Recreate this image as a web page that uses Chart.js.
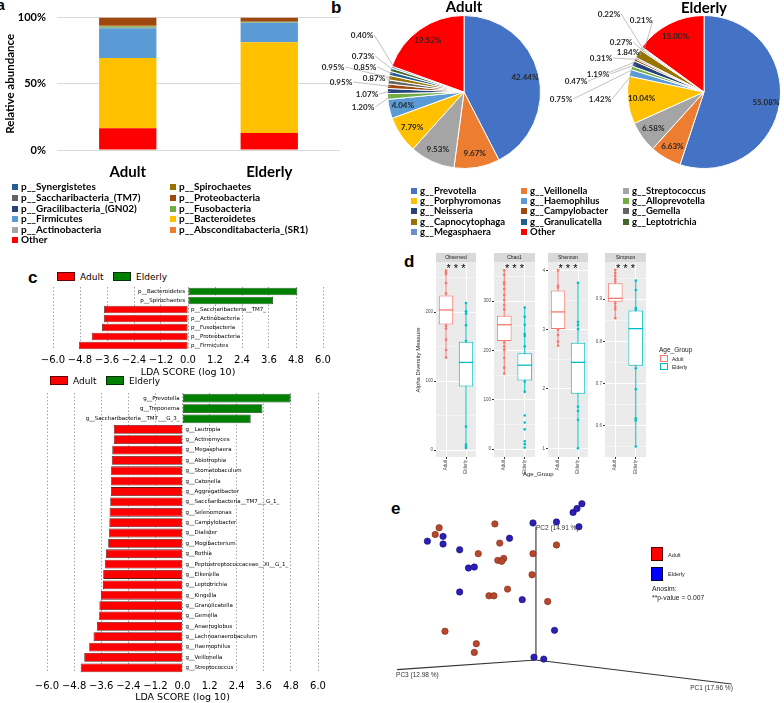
<!DOCTYPE html>
<html>
<head>
<meta charset="utf-8">
<title>Adult vs Elderly oral microbiota</title>
<script src="https://cdn.jsdelivr.net/npm/chart.js@4.4.1/dist/chart.umd.min.js"></script>
<style>
  html, body { margin: 0; padding: 0; }
  body { width: 784px; height: 703px; position: relative; overflow: hidden; background: #fff; color: #000; }
  canvas { position: absolute; }
  .txt { position: absolute; white-space: nowrap; }
  .tag { position: absolute; font: bold 17px "Liberation Sans", Arial, sans-serif; line-height: 1; }
  .lgA { font: bold 10px Lato, sans-serif; line-height: 10.6px; }
  .lgB { font: bold 9.5px Lato, sans-serif; line-height: 10.2px; }
  .key { display: inline-block; width: 6px; height: 6px; margin-right: 3px; }
  .sm { font: 9px "DejaVu Sans", sans-serif; line-height: 1; }
  .gg { font: 6.5px "Liberation Sans", Arial, sans-serif; line-height: 1; color: #1a1a1a; }
</style>
</head>
<body>
<div class="tag" style="left:-3px;top:-2px;font-size:14px">a</div>
<div class="tag" style="left:331px;top:-1px">b</div>
<div class="tag" style="left:28px;top:269px">c</div>
<div class="tag" style="left:404px;top:253px">d</div>
<div class="tag" style="left:391px;top:500px">e</div>

<canvas id="barA" width="345" height="185" style="left:0;top:0"></canvas>

<canvas id="pieAdult" width="320" height="184" style="left:304px;top:0"></canvas>
<canvas id="pieElderly" width="320" height="184" style="left:544px;top:0"></canvas>
<div class="txt" style="left:414px;top:-1px;width:100px;text-align:center;font:bold 15px Lato,sans-serif;line-height:1">Adult</div>
<div class="txt" style="left:654px;top:0px;width:100px;text-align:center;font:bold 15px Lato,sans-serif;line-height:1">Elderly</div>

<div class="txt sm" style="left:57px;top:272px"><span style="display:inline-block;width:16px;height:7px;background:#ff0000;border:0.5px solid #600;vertical-align:-1px;margin-right:5px"></span>Adult</div>
<div class="txt sm" style="left:113px;top:272px"><span style="display:inline-block;width:16px;height:7px;background:#008000;border:0.5px solid #030;vertical-align:-1px;margin-right:5px"></span>Elderly</div>
<canvas id="ldaPhylum" width="310" height="97" style="left:33px;top:282px"></canvas>
<div class="txt sm" style="left:50px;top:376px"><span style="display:inline-block;width:16px;height:7px;background:#ff0000;border:0.5px solid #600;vertical-align:-1px;margin-right:5px"></span>Adult</div>
<div class="txt sm" style="left:106px;top:376px"><span style="display:inline-block;width:16px;height:7px;background:#008000;border:0.5px solid #030;vertical-align:-1px;margin-right:5px"></span>Elderly</div>
<canvas id="ldaGenus" width="311" height="315" style="left:27px;top:388px"></canvas>

<canvas id="fObserved" width="68" height="226" style="left:412px;top:252px"></canvas>
<canvas id="fChao1" width="59" height="226" style="left:480px;top:252px"></canvas>
<canvas id="fShannon" width="58" height="226" style="left:534px;top:252px"></canvas>
<canvas id="fSimpson" width="59" height="226" style="left:591px;top:252px"></canvas>
<div class="txt gg" style="left:523px;top:471px;font-size:6px">Age_Group</div>
<div class="txt gg" style="left:659px;top:347px">Age_Group</div>
<div class="txt gg" style="left:660px;top:355px;font-size:5px"><span style="display:inline-block;width:6px;height:5px;border:1px solid #f8766d;background:#fff;margin-right:4px;vertical-align:-1px"></span>Adult</div>
<div class="txt gg" style="left:660px;top:363px;font-size:5px"><span style="display:inline-block;width:6px;height:5px;border:1px solid #00bfc4;background:#fff;margin-right:4px;vertical-align:-1px"></span>Elderly</div>

<canvas id="pcoa" width="414" height="223" style="left:370px;top:480px"></canvas>
<div class="txt" style="left:651px;top:547px;width:10px;height:12px;background:#ff0000;border:1px solid #500"></div>
<div class="txt gg" style="left:668px;top:553px;font-size:5.5px">Adult</div>
<div class="txt" style="left:651px;top:567px;width:10px;height:12px;background:#0000ff;border:1px solid #003"></div>
<div class="txt gg" style="left:668px;top:572px;font-size:5.5px">Elderly</div>
<div class="txt gg" style="left:652px;top:586px;font-size:6.8px">Anosim:</div>
<div class="txt gg" style="left:652px;top:595px;font-size:6.8px">**p-value = 0.007</div>

<script>
// a: phylum relative abundance (%)
var groups = ['Adult', 'Elderly'];
var phyla = ['Other', 'p__Bacteroidetes', 'p__Firmicutes', 'p__Actinobacteria', 'p__Fusobacteria', 'p__Saccharibacteria_(TM7)', 'p__Spirochaetes', 'p__Synergistetes', 'p__Gracilibacteria_(GN02)', 'p__Absconditabacteria_(SR1)', 'p__Proteobacteria'];
var phylumAdult = [16.5, 52.9, 22.6, 0.4, 0.8, 0.2, 0.2, 0.1, 0.05, 0.05, 6.2];
var phylumElderly = [12.9, 68.5, 14.6, 0.2, 0.3, 0.1, 0.3, 0.05, 0.05, 0.0, 3.0];
var phylumColors = ['#ff0000', '#ffc000', '#5b9bd5', '#a5a5a5', '#70ad47', '#636363', '#997300', '#255e91', '#264478', '#ed7d31', '#9e480e'];
var phylumLegendLeft = ['p__Synergistetes', 'p__Saccharibacteria_(TM7)', 'p__Gracilibacteria_(GN02)', 'p__Firmicutes', 'p__Actinobacteria', 'Other'];
var phylumLegendRight = ['p__Spirochaetes', 'p__Proteobacteria', 'p__Fusobacteria', 'p__Bacteroidetes', 'p__Absconditabacteria_(SR1)'];
var percentTicks = [0, 50, 100];

// b: genus pies (%)
var genera = ['g__Prevotella', 'g__Veillonella', 'g__Streptococcus', 'g__Porphyromonas', 'g__Haemophilus', 'g__Alloprevotella', 'g__Neisseria', 'g__Campylobacter', 'g__Gemella', 'g__Capnocytophaga', 'g__Granulicatella', 'g__Leptotrichia', 'g__Megasphaera', 'Other'];
var genusAdult = [42.44, 9.67, 9.53, 7.79, 4.04, 1.20, 1.07, 0.95, 0.87, 0.95, 0.85, 0.73, 0.40, 19.52];
var genusElderly = [55.08, 6.63, 6.58, 10.04, 1.42, 0.75, 1.19, 0.47, 0.31, 1.84, 0.27, 0.22, 0.21, 15.00];
var genusColors = ['#4472c4', '#ed7d31', '#a5a5a5', '#ffc000', '#5b9bd5', '#70ad47', '#264478', '#9e480e', '#636363', '#997300', '#255e91', '#43682b', '#698ed0', '#ff0000'];
// where the small slice labels sit, relative to the pie centre
var adultLabelPos = [null, null, null, null, null, [-101, 15], [-97, 2], [-123, -10], [-90, -14], [-131, -25], [-99, -25], [-101, -36], [-102, -57], null];
var elderlyLabelPos = [null, null, null, null, [-104, 7], [-143, 7], [-106, -18], [-128, -11], [-103, -34], [-76, -40], [-83, -50], [-95, -78], [-63, -72], null];

// c: LEfSe LDA scores
var phylumLda = ['p__Bacteroidetes', 'p__Spirochaetes', 'p__Saccharibacteria__TM7_', 'p__Actinobacteria', 'p__Fusobacteria', 'p__Proteobacteria', 'p__Firmicutes'];
var phylumLdaScore = [4.86, 3.78, -3.73, -3.74, -3.82, -4.28, -4.84];
var genusLda = ['g__Prevotella', 'g__Treponema', 'g__Saccharibacteria__TM7___G_3_', 'g__Lautropia', 'g__Actinomyces', 'g__Megasphaera', 'g__Abiotrophia', 'g__Stomatobaculum', 'g__Catonella', 'g__Aggregatibacter', 'g__Saccharibacteria__TM7___G_1_', 'g__Selenomonas', 'g__Campylobacter', 'g__Dialister', 'g__Mogibacterium', 'g__Rothia', 'g__Peptostreptococcaceae__XI__G_1_', 'g__Eikenella', 'g__Leptotrichia', 'g__Kingella', 'g__Granulicatella', 'g__Gemella', 'g__Anaeroglobus', 'g__Lachnoanaerobaculum', 'g__Haemophilus', 'g__Veillonella', 'g__Streptococcus'];
var genusLdaScore = [4.79, 3.54, 3.02, -3.04, -3.04, -3.11, -3.13, -3.16, -3.16, -3.17, -3.20, -3.23, -3.24, -3.25, -3.29, -3.39, -3.44, -3.51, -3.52, -3.61, -3.68, -3.69, -3.79, -3.94, -4.13, -4.35, -4.51];
var ldaTicks = [-6.0, -4.8, -3.6, -2.4, -1.2, 0.0, 1.2, 2.4, 3.6, 4.8, 6.0];

// d: alpha diversity, box = [min, q1, median, q3, max] for Adult, Elderly
var observedBox = [[134, 182, 203, 224, 260], [3, 92, 127, 157, 213]];
var observedPts = [[260, 257, 255, 242, 227, 180, 176, 160, 145, 134], [213, 201, 198, 181, 158, 34, 8, 5, 3]];
var chao1Box = [[153, 219, 252, 270, 362], [116, 139, 170, 194, 287]];
var chao1Pts = [[362, 353, 338, 334, 324, 312, 302, 292, 283, 216, 208, 201, 185, 165, 153], [287, 268, 252, 233, 229, 208, 137, 116, 68, 54, 40, 16, 10, 3]];
var shannonBox = [[2.74, 3.01, 3.30, 3.66, 4.00], [1.00, 1.92, 2.45, 2.78, 3.80]];
var shannonPts = [[4.0, 3.74, 3.71, 3.0, 2.91, 2.80, 2.73], [3.79, 3.13, 3.08, 3.01, 1.70, 1.63, 1.48, 1.0]];
var simpsonBox = [[0.855, 0.894, 0.902, 0.938, 0.970], [0.550, 0.742, 0.830, 0.873, 0.944]];
var simpsonPts = [[0.970, 0.962, 0.955, 0.948, 0.942, 0.890, 0.882, 0.876, 0.855], [0.944, 0.922, 0.879, 0.875, 0.736, 0.686, 0.617, 0.612, 0.550]];
var observedTicks = [0, 50, 100, 150, 200, 250];
var chao1Ticks = [0, 50, 100, 150, 200, 250, 300, 350];
var shannonTicks = [1, 1.5, 2, 2.5, 3, 3.5, 4];
var simpsonTicks = [0.55, 0.6, 0.65, 0.7, 0.75, 0.8, 0.85, 0.9, 0.95];
var groupColors = ['#f8766d', '#00bfc4'];

// e: PCoA, projected positions of the 3D plot
var pcoaAdult = [[-0.99, 1.38], [-1.03, 1.31], [-0.42, 1.42], [-0.37, 1.22], [-0.59, 1.11], [-0.39, 1.04], [-0.33, 1.06], [-0.35, 1.03], [-0.03, 1.11], [0.21, 1.20], [-0.04, 0.89], [-0.29, 0.74], [-0.48, 0.67], [-0.43, 0.67], [0.12, 0.61], [-0.93, 0.30], [-0.61, 0.17], [-0.63, 0.08]];
var pcoaElderly = [[-0.03, 1.43], [0.21, 1.44], [0.38, 1.54], [0.42, 1.58], [0.47, 1.63], [0.44, 1.39], [-0.27, 1.27], [-0.95, 1.29], [-1.11, 1.24], [-0.95, 1.21], [-0.78, 1.15], [-0.69, 0.96], [-0.63, 0.97], [-0.78, 0.71], [-0.14, 0.63], [0.19, 0.31], [-0.02, 0.03], [0.08, 0.01]];
var pcAxisEnds = [[2.00, -0.25], [0, 1.39], [-1.42, -0.10]];
var pcAxisNames = ['PC1 (17.96 %)', 'PC2 (14.91 %)', 'PC3 (12.98 %)'];

Chart.defaults.font.family = '"DejaVu Sans", sans-serif';
Chart.defaults.color = '#000';
Chart.defaults.animation = false;
Chart.defaults.responsive = false;
Chart.defaults.devicePixelRatio = 1;
Chart.defaults.plugins.legend.display = false;
Chart.defaults.plugins.tooltip.enabled = false;

function setTicks(values) {
    return function (axis) {
        axis.ticks = values.map(function (v) { return { value: v }; });
    };
}

function addLegendRow(name, color, x, y, cls) {
    var d = document.createElement('div');
    d.className = 'txt ' + cls;
    d.style.left = x + 'px';
    d.style.top = y + 'px';
    var k = document.createElement('span');
    k.className = 'key';
    k.style.background = color;
    d.appendChild(k);
    d.appendChild(document.createTextNode(name));
    document.body.appendChild(d);
}

// ---- a ----
new Chart(document.getElementById('barA'), {
    type: 'bar',
    data: {
        labels: groups,
        datasets: phyla.map(function (name, i) {
            return {
                label: name,
                data: [phylumAdult[i], phylumElderly[i]],
                backgroundColor: phylumColors[i],
                categoryPercentage: 0.45,
                barPercentage: 0.9
            };
        })
    },
    options: {
        layout: { padding: { top: 9, right: 5 } },
        scales: {
            x: {
                stacked: true,
                grid: { display: false },
                border: { display: false },
                ticks: { padding: 5, color: '#000', font: { family: 'Lato', size: 15, weight: 'bold' } },
                afterFit: function (s) { s.height = 35; }
            },
            y: {
                stacked: true, min: 0, max: 100,
                afterBuildTicks: setTicks(percentTicks),
                grid: { color: '#d9d9d9', drawTicks: false },
                border: { display: false },
                ticks: { padding: 11, color: '#000', font: { family: 'Lato', size: 11, weight: 'bold' }, callback: function (v) { return v + '%'; } },
                title: { display: true, text: 'Relative abundance', color: '#000', font: { family: 'Lato', size: 11.5, weight: 'bold' }, padding: { top: 3 } },
                afterFit: function (s) { s.width = 57; }
            }
        }
    }
});
phylumLegendLeft.forEach(function (name, i) {
    addLegendRow(name, phylumColors[phyla.indexOf(name)], 12, 181.4 + i * 10.6, 'lgA');
});
phylumLegendRight.forEach(function (name, i) {
    addLegendRow(name, phylumColors[phyla.indexOf(name)], 170, 181.4 + i * 10.6, 'lgA');
});

// ---- b ----
var pieLabels = {
    id: 'pieLabels',
    afterDatasetsDraw: function (chart, args, opts) {
        var ctx = chart.ctx;
        var values = chart.data.datasets[0].data;
        ctx.save();
        ctx.font = 'bold 8px Lato, sans-serif';
        ctx.textBaseline = 'middle';
        ctx.textAlign = 'center';
        chart.getDatasetMeta(0).data.forEach(function (arc, i) {
            var mid = (arc.startAngle + arc.endAngle) / 2;
            var text = values[i].toFixed(2) + '%';
            var pos = opts.outside[i];
            ctx.fillStyle = '#262626';
            if (!pos) {
                ctx.fillText(text, arc.x + Math.cos(mid) * arc.outerRadius * 0.82, arc.y + Math.sin(mid) * arc.outerRadius * 0.82);
                return;
            }
            var tx = arc.x + pos[0], ty = arc.y + pos[1];
            var w = ctx.measureText(text).width;
            ctx.strokeStyle = '#a6a6a6';
            ctx.lineWidth = 0.7;
            ctx.beginPath();
            ctx.moveTo(tx + w / 2 + 1, ty);
            ctx.lineTo(arc.x + Math.cos(mid) * arc.outerRadius * 0.96, arc.y + Math.sin(mid) * arc.outerRadius * 0.96);
            ctx.stroke();
            ctx.fillText(text, tx, ty);
        });
        ctx.restore();
    }
};

function pieChart(id, values, outside) {
    return new Chart(document.getElementById(id), {
        type: 'pie',
        data: {
            labels: genera,
            datasets: [{ data: values, backgroundColor: genusColors, borderColor: '#ffffff', borderWidth: 1 }]
        },
        options: {
            layout: { padding: { left: 83, right: 83, top: 15, bottom: 15 } },
            plugins: { pieLabels: { outside: outside } }
        },
        plugins: [pieLabels]
    });
}
pieChart('pieAdult', genusAdult, adultLabelPos);
pieChart('pieElderly', genusElderly, elderlyLabelPos);
genera.forEach(function (name, i) {
    var colX = [411, 521, 623];
    addLegendRow(name, genusColors[i], colX[i % 3], 186 + Math.floor(i / 3) * 10.2, 'lgB');
});

// ---- c ----
var ldaLabels = {
    id: 'ldaLabels',
    afterDatasetsDraw: function (chart) {
        var ctx = chart.ctx;
        var x0 = chart.scales.x.getPixelForValue(0);
        var scores = chart.data.datasets[0].data;
        ctx.save();
        ctx.font = '5.5px "DejaVu Sans"';
        ctx.fillStyle = '#000';
        ctx.textBaseline = 'middle';
        chart.getDatasetMeta(0).data.forEach(function (bar, i) {
            if (scores[i] > 0) {
                ctx.textAlign = 'right';
                ctx.fillText(chart.data.labels[i], x0 - 3, bar.y);
            } else {
                ctx.textAlign = 'left';
                ctx.fillText(chart.data.labels[i], x0 + 3, bar.y);
            }
        });
        ctx.restore();
    }
};

function ldaChart(id, names, scores, axisHeight, tickPad, titlePad) {
    return new Chart(document.getElementById(id), {
        type: 'bar',
        data: {
            labels: names,
            datasets: [{
                data: scores,
                backgroundColor: scores.map(function (v) { return v > 0 ? '#008000' : '#ff0000'; }),
                borderColor: scores.map(function (v) { return v > 0 ? '#1f3d1f' : '#5a2020'; }),
                borderWidth: 0.8,
                borderSkipped: false,
                barPercentage: 0.85,
                categoryPercentage: 1
            }]
        },
        options: {
            indexAxis: 'y',
            layout: { padding: { left: 20, right: 20, top: 5, bottom: 0 } },
            scales: {
                x: {
                    min: -6, max: 6,
                    afterBuildTicks: setTicks(ldaTicks),
                    grid: { color: '#8c8c8c', lineWidth: 0.8, drawTicks: false },
                    border: { display: false, dash: [1.5, 2] },
                    ticks: {
                        padding: tickPad, color: '#000', font: { size: 10 },
                        autoSkip: false, minRotation: 0, maxRotation: 0,
                        callback: function (v) { return (v < 0 ? '\u2212' : '') + Math.abs(v).toFixed(1); }
                    },
                    title: { display: true, text: 'LDA SCORE (log 10)', color: '#000', font: { size: 9.5 }, padding: { top: 0, bottom: titlePad } },
                    afterFit: function (s) { s.height = axisHeight; }
                },
                y: { display: false }
            }
        },
        plugins: [ldaLabels]
    });
}
ldaChart('ldaPhylum', phylumLda, phylumLdaScore, 29, 4, 1);
ldaChart('ldaGenus', genusLda, genusLdaScore, 30, 7, 0);

// ---- d ----
var facetPlugin = {
    id: 'facet',
    beforeDraw: function (chart, args, opts) {
        var a = chart.chartArea, ctx = chart.ctx;
        ctx.save();
        ctx.fillStyle = '#ebebeb';
        ctx.fillRect(a.left, a.top, a.right - a.left, a.bottom - a.top);
        ctx.fillStyle = '#d9d9d9';
        ctx.fillRect(a.left, a.top - 10, a.right - a.left, 9.5);
        ctx.fillStyle = '#1a1a1a';
        ctx.font = '5px "Liberation Sans"';
        ctx.textAlign = 'center';
        ctx.textBaseline = 'middle';
        ctx.fillText(opts.title, (a.left + a.right) / 2, a.top - 5);
        ctx.restore();
    },
    beforeDatasetsDraw: function (chart, args, opts) {
        var ctx = chart.ctx, x = chart.scales.x, y = chart.scales.y;
        ctx.save();
        ctx.lineWidth = 1;
        opts.box.forEach(function (b, i) {
            var px = x.getPixelForValue(i);
            ctx.strokeStyle = groupColors[i];
            ctx.beginPath();
            ctx.moveTo(px, y.getPixelForValue(b[0]));
            ctx.lineTo(px, y.getPixelForValue(b[4]));
            ctx.stroke();
        });
        ctx.restore();
    },
    afterDatasetsDraw: function (chart, args, opts) {
        var ctx = chart.ctx, y = chart.scales.y, a = chart.chartArea;
        var bars = chart.getDatasetMeta(0).data;
        ctx.save();
        ctx.lineWidth = 1.3;
        opts.box.forEach(function (b, i) {
            var py = y.getPixelForValue(b[2]);
            ctx.strokeStyle = groupColors[i];
            ctx.beginPath();
            ctx.moveTo(bars[i].x - bars[i].width / 2, py);
            ctx.lineTo(bars[i].x + bars[i].width / 2, py);
            ctx.stroke();
        });
        ctx.fillStyle = '#000';
        ctx.font = '11px "Liberation Sans"';
        ctx.textAlign = 'center';
        ctx.textBaseline = 'middle';
        ctx.fillText('* * *', (a.left + a.right) / 2, a.top + 6);
        ctx.restore();
    }
};

function facetChart(id, title, box, pts, ticks, major, min, max, yWidth, yTitle) {
    var isMajor = function (v) { return Math.abs(v / major - Math.round(v / major)) < 1e-6; };
    return new Chart(document.getElementById(id), {
        type: 'bar',
        data: {
            labels: groups,
            datasets: [
                {
                    type: 'bar',
                    data: box.map(function (b) { return [b[1], b[3]]; }),
                    backgroundColor: '#ffffff',
                    borderColor: groupColors,
                    borderWidth: 1,
                    borderSkipped: false,
                    barPercentage: 0.72,
                    categoryPercentage: 1
                },
                {
                    type: 'scatter',
                    data: pts[0].map(function (v) { return { x: 'Adult', y: v }; }),
                    pointRadius: 1.3, pointBackgroundColor: groupColors[0], pointBorderWidth: 0
                },
                {
                    type: 'scatter',
                    data: pts[1].map(function (v) { return { x: 'Elderly', y: v }; }),
                    pointRadius: 1.3, pointBackgroundColor: groupColors[1], pointBorderWidth: 0
                }
            ]
        },
        options: {
            layout: { padding: { top: 11, left: 0, right: 0, bottom: 0 } },
            plugins: { facet: { title: title, box: box } },
            scales: {
                x: {
                    grid: { offset: false, color: '#ffffff', lineWidth: 1, tickLength: 2, tickColor: '#333' },
                    border: { display: false },
                    ticks: { autoSkip: false, minRotation: 90, maxRotation: 90, padding: 1, color: '#4d4d4d', font: { family: 'Liberation Sans', size: 4.5 } },
                    afterFit: function (s) { s.height = 21; }
                },
                y: {
                    min: min, max: max,
                    afterBuildTicks: setTicks(ticks),
                    grid: {
                        color: '#ffffff',
                        lineWidth: function (c) { return isMajor(c.tick.value) ? 1 : 0.45; },
                        tickLength: 2,
                        tickColor: function (c) { return isMajor(c.tick.value) ? '#333' : 'rgba(0,0,0,0)'; }
                    },
                    border: { display: false },
                    ticks: {
                        padding: 1, color: '#4d4d4d', font: { family: 'Liberation Sans', size: 4.5 },
                        callback: function (v) { return isMajor(v) ? String(Math.round(v * 100) / 100) : ''; }
                    },
                    title: { display: !!yTitle, text: yTitle || '', color: '#1a1a1a', font: { family: 'Liberation Sans', size: 6 }, padding: { top: 3, bottom: 0 } },
                    afterFit: function (s) { s.width = yWidth; }
                }
            }
        },
        plugins: [facetPlugin]
    });
}
facetChart('fObserved', 'Observed', observedBox, observedPts, observedTicks, 100, -10, 271, 24, 'Alpha Diversity Measure');
facetChart('fChao1', 'Chao1', chao1Box, chao1Pts, chao1Ticks, 100, -16, 377, 14);
facetChart('fShannon', 'Shannon', shannonBox, shannonPts, shannonTicks, 1, 0.853, 4.125, 14);
facetChart('fSimpson', 'Simpson', simpsonBox, simpsonPts, simpsonTicks, 0.1, 0.525, 0.986, 14);

// ---- e ----
var pcAxisLabels = {
    id: 'pcAxisLabels',
    afterDatasetsDraw: function (chart) {
        var ctx = chart.ctx, x = chart.scales.x, y = chart.scales.y;
        var shift = [[-20, 4, 'center'], [0, 1, 'left'], [-1, 6, 'left']];
        ctx.save();
        ctx.font = '6.5px "Liberation Sans"';
        ctx.fillStyle = '#333';
        ctx.textBaseline = 'middle';
        pcAxisEnds.forEach(function (p, i) {
            ctx.textAlign = shift[i][2];
            ctx.fillText(pcAxisNames[i], x.getPixelForValue(p[0]) + shift[i][0], y.getPixelForValue(p[1]) + shift[i][1]);
        });
        ctx.restore();
    }
};

var pcoaSets = [
    {
        data: pcoaAdult.map(function (p) { return { x: p[0], y: p[1] }; }),
        pointRadius: 3.2, backgroundColor: '#b8482b', borderColor: '#7a2a14', borderWidth: 0.6, clip: false
    },
    {
        data: pcoaElderly.map(function (p) { return { x: p[0], y: p[1] }; }),
        pointRadius: 3.2, backgroundColor: '#2b1fb5', borderColor: '#160e70', borderWidth: 0.6, clip: false
    }
];
pcAxisEnds.forEach(function (p) {
    pcoaSets.push({ data: [{ x: 0, y: 0 }, { x: p[0], y: p[1] }], showLine: true, pointRadius: 0, borderColor: '#333', borderWidth: 1.1, clip: false });
});
new Chart(document.getElementById('pcoa'), {
    type: 'scatter',
    data: { datasets: pcoaSets },
    options: {
        layout: { padding: 0 },
        scales: {
            x: { display: false, min: -1.65, max: 2.49 },
            y: { display: false, min: -0.40, max: 1.83 }
        }
    },
    plugins: [pcAxisLabels]
});
</script>
</body>
</html>
